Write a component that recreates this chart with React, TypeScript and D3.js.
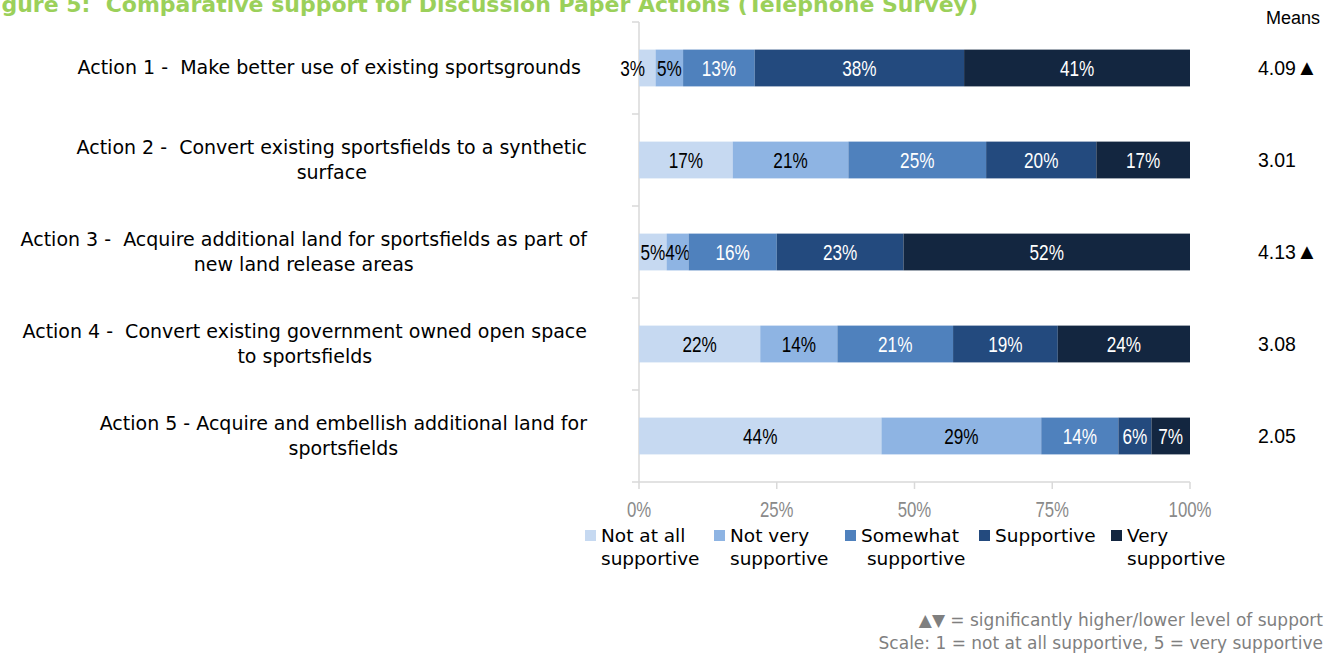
import React, { useEffect, useRef } from "react";
import * as d3 from "d3";

const categories = ["A1", "A2", "A3", "A4", "A5"];
const categoryLabels: string[][] = [
  ["Action 1 -  Make better use of existing sportsgrounds\u00a0"],
  ["Action 2 -  Convert existing sportsfields to a synthetic", "surface"],
  ["Action 3 -  Acquire additional land for sportsfields as part of", "new land release areas"],
  ["Action 4 -  Convert existing government owned open space", "to sportsfields"],
  ["Action 5 - Acquire and embellish additional land for", "sportsfields"],
];
const seriesNames = ["Not at all supportive", "Not very supportive", "Somewhat supportive", "Supportive", "Very supportive"];
const legendLines: string[][] = [
  ["Not at all", "supportive"],
  ["Not very", "supportive"],
  ["Somewhat", " supportive"],
  ["Supportive"],
  ["Very", "supportive"],
];
const notAtAll = [3, 17, 5, 22, 44];
const notVery = [5, 21, 4, 14, 29];
const somewhat = [13, 25, 16, 21, 14];
const supportive = [38, 20, 23, 19, 6];
const verySupportive = [41, 17, 52, 24, 7];
const means = ["4.09", "3.01", "4.13", "3.08", "2.05"];
const significance = ["▲", "", "▲", "", ""];
const xTicks = [0, 25, 50, 75, 100];
const titleText = "Figure 5:  Comparative support for Discussion Paper Actions (Telephone Survey)";
const footnotes = ["▲▼ = significantly higher/lower level of support", "Scale: 1 = not at all supportive, 5 = very supportive"];

const colors = ["#c6d9f1", "#8eb4e3", "#4f81bd", "#234a7e", "#132640"];
const labelColors = ["#000000", "#000000", "#ffffff", "#ffffff", "#ffffff"];

const W = 1331;
const H = 658;
const LABEL_FONT = "'DejaVu Sans', Verdana, sans-serif";
const NUM_FONT = "'Liberation Sans', Arial, sans-serif";
const NARROW = 0.78;

export default function App() {
  const ref = useRef<SVGSVGElement | null>(null);

  useEffect(() => {
    const svg = d3.select(ref.current);
    svg.selectAll("*").remove();

    const x = d3.scaleLinear().domain([0, 100]).range([639, 1190]);
    const y = d3.scaleBand<string>().domain(categories).range([22, 482]).paddingInner(0.6).paddingOuter(0.3);

    const seriesData = [notAtAll, notVery, somewhat, supportive, verySupportive];
    const rows = categories.map((c, i) => {
      const r: any = { cat: c };
      seriesNames.forEach((s, k) => (r[s] = seriesData[k][i]));
      return r;
    });
    const stacked = d3.stack<any>().keys(seriesNames)(rows);

    const narrowText = (parent: any, cx: number, by: number, txt: string, size: number, fill: string) =>
      parent
        .append("text")
        .attr("transform", `translate(${cx},${by}) scale(${NARROW},1)`)
        .attr("text-anchor", "middle")
        .attr("font-family", NUM_FONT)
        .attr("font-size", size)
        .attr("fill", fill)
        .text(txt);

    // title
    svg
      .append("text")
      .attr("x", 978)
      .attr("y", 12)
      .attr("text-anchor", "end")
      .attr("font-family", LABEL_FONT)
      .attr("font-weight", "bold")
      .attr("font-size", 22)
      .attr("fill", "#9bd05a")
      .style("white-space", "pre")
      .text(titleText);

    // axes lines
    const axisColor = "#d9d9d9";
    const g = svg.append("g");
    const yr = y.range();
    g.append("line").attr("x1", 639).attr("x2", 639).attr("y1", yr[0]).attr("y2", yr[1]).attr("stroke", axisColor).attr("stroke-width", 1.5);
    const boundaries = categories.map((c) => (y(c) as number) - y.step() * y.paddingOuter()).concat([yr[1]]);
    boundaries.forEach((b) => {
      g.append("line").attr("x1", 632).attr("x2", 639).attr("y1", b).attr("y2", b).attr("stroke", axisColor).attr("stroke-width", 1.5);
    });
    g.append("line").attr("x1", x(0)).attr("x2", x(100)).attr("y1", yr[1]).attr("y2", yr[1]).attr("stroke", axisColor).attr("stroke-width", 1.5);
    xTicks.forEach((t) => {
      g.append("line").attr("x1", x(t)).attr("x2", x(t)).attr("y1", yr[1]).attr("y2", yr[1] + 7).attr("stroke", axisColor).attr("stroke-width", 1.5);
      narrowText(g, x(t), 517, `${t}%`, 21.5, "#8a8a8a");
    });

    // bars
    stacked.forEach((layer, k) => {
      const lg = svg.append("g");
      layer.forEach((d: any, i: number) => {
        const cat = categories[i];
        const x0 = x(d[0]);
        const x1 = x(d[1]);
        lg.append("rect")
          .attr("x", x0)
          .attr("y", y(cat) as number)
          .attr("width", x1 - x0)
          .attr("height", y.bandwidth())
          .attr("fill", colors[k]);
        const by = (y(cat) as number) + y.bandwidth() / 2 + 8;
        const t = narrowText(lg, (x0 + x1) / 2, by, `${d[1] - d[0]}%`, 22, labelColors[k]);
        // a label wider than a narrow first segment is pushed outward to the left
        const w = (t.node() as SVGTextElement).getComputedTextLength() * NARROW;
        if (k === 0 && w > x1 - x0) {
          t.attr("transform", `translate(${x0 + 6 - w / 2},${by}) scale(${NARROW},1)`);
        }
      });
    });

    // category labels
    const rightEdge = 587;
    categories.forEach((c, i) => {
      const lines = categoryLabels[i];
      const cy = (y(c) as number) + y.bandwidth() / 2;
      const lh = 25;
      const t = svg
        .append("text")
        .attr("font-family", LABEL_FONT)
        .attr("font-size", 19)
        .attr("fill", "#000")
        .attr("text-anchor", "middle")
        .style("white-space", "pre");
      const spans = lines.map((ln, j) =>
        t
          .append("tspan")
          .attr("x", 0)
          .attr("y", cy + 6 + (j - (lines.length - 1) / 2) * lh)
          .text(ln)
      );
      let maxW = 0;
      spans.forEach((s) => {
        const w = (s.node() as SVGTSpanElement).getComputedTextLength();
        if (w > maxW) maxW = w;
      });
      spans.forEach((s) => s.attr("x", rightEdge - maxW / 2));
    });

    // means
    svg
      .append("text")
      .attr("x", 1320)
      .attr("y", 24)
      .attr("text-anchor", "end")
      .attr("font-family", NUM_FONT)
      .attr("font-size", 18)
      .attr("fill", "#000")
      .text("Means");
    categories.forEach((c, i) => {
      const t = svg
        .append("text")
        .attr("x", 1258)
        .attr("y", (y(c) as number) + y.bandwidth() / 2 + 7)
        .attr("font-family", NUM_FONT)
        .attr("font-size", 19.5)
        .attr("fill", "#000");
      t.append("tspan").text(means[i]);
      if (significance[i]) t.append("tspan").attr("font-size", 22).text(significance[i]);
    });

    // legend
    const legendX = [585, 714, 845, 979, 1111];
    seriesNames.forEach((s, k) => {
      const lg = svg.append("g");
      lg.append("rect").attr("x", legendX[k]).attr("y", 530).attr("width", 11).attr("height", 11).attr("fill", colors[k]);
      const t = lg
        .append("text")
        .attr("font-family", LABEL_FONT)
        .attr("font-size", 18.5)
        .attr("fill", "#000")
        .style("white-space", "pre");
      legendLines[k].forEach((ln, j) => {
        t.append("tspan").attr("x", legendX[k] + 16).attr("y", 542 + j * 23).text(ln);
      });
    });

    // footnotes
    footnotes.forEach((f, j) => {
      svg
        .append("text")
        .attr("x", 1323)
        .attr("y", 626 + j * 23)
        .attr("text-anchor", "end")
        .attr("font-family", LABEL_FONT)
        .attr("font-size", 17)
        .attr("fill", "#7f7f7f")
        .text(f);
    });
  }, []);

  return (
    <div style={{ position: "absolute", left: 0, top: 0, width: W, height: H, overflow: "hidden", background: "#fff" }}>
      <svg ref={ref} width={W} height={H} style={{ display: "block" }} />
    </div>
  );
}
